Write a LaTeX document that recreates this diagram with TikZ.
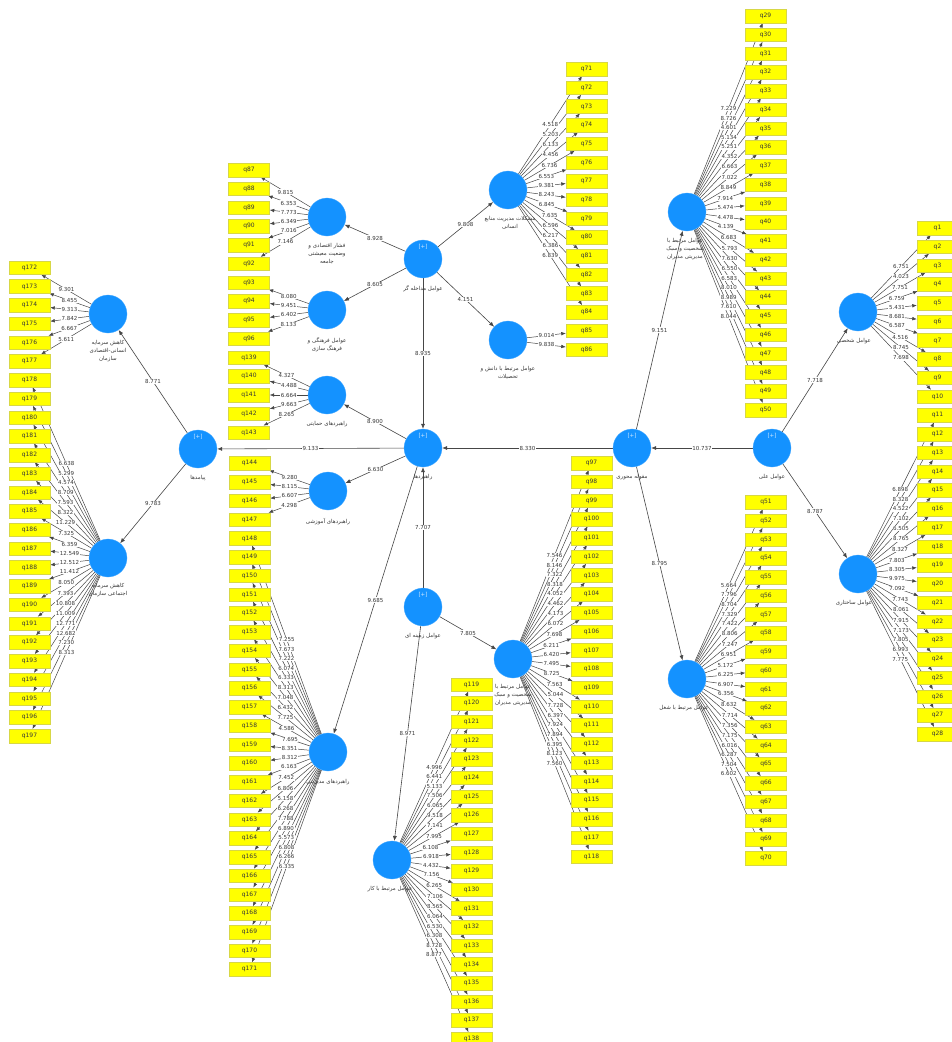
\documentclass[tikz,border=0pt]{standalone}
\usepackage{fontspec}
\setmainfont{DejaVu Sans}
\newfontfamily\farsi[Script=Arabic]{DejaVu Sans}
\TeXXeTstate=1
\usetikzlibrary{arrows.meta,calc}
\pgfdeclarelayer{bg}
\pgfdeclarelayer{lab}
\pgfsetlayers{bg,lab,main}
\definecolor{lvblue}{RGB}{20,146,255}
\definecolor{boxy}{RGB}{255,255,0}
\definecolor{boxedge}{RGB}{215,215,70}
\definecolor{lineg}{RGB}{70,70,70}
\definecolor{txtg}{RGB}{55,55,55}
\newcommand{\fa}[1]{{\farsi\beginR #1\endR}}
\tikzset{
 lvnode/.style={circle, fill=lvblue, draw=lvblue!75!white, minimum size=38pt, inner sep=0pt, line width=0.3pt},
 qbox/.style={rectangle, fill=boxy, draw=boxedge, line width=0.4pt, minimum width=41pt, minimum height=13.5pt, inner sep=0pt, font=\fontsize{6}{7}\selectfont, text=txtg},
 ldline/.style={draw=lineg, line width=0.5pt, -{Latex[length=4.5pt,width=3.6pt]}},
 strline/.style={draw=lineg, line width=0.6pt, -{Latex[length=5pt,width=4pt]}},
 ldlab/.style={fill=white, inner sep=0.6pt, font=\fontsize{5.5}{6}\selectfont, text=txtg},
 lvtext/.style={anchor=north, align=center, font=\fontsize{5.5}{8}\selectfont, text=txtg, inner sep=0pt},
 plusmark/.style={font=\fontsize{5.5}{6}\selectfont, text=white!80!lvblue, inner sep=0pt},
}
\newcommand{\indcol}[5]{%
  \foreach \i/\v [count=\k from 0] in {#5} {%
    \node[qbox] (q\i) at (#2, {#3+#4*\k}) {q\i};
    \begin{pgfonlayer}{bg}\draw[ldline] (#1) -- (q\i);\end{pgfonlayer}
    \begin{pgfonlayer}{lab}\path (#1) -- (q\i) node[midway,ldlab] (l\i) {\v};\end{pgfonlayer}
  }}
\newcommand{\stredge}[3]{%
  \begin{pgfonlayer}{bg}\draw[strline] (#1) -- (#2);\end{pgfonlayer}
  \begin{pgfonlayer}{lab}\path (#1) -- (#2) node[midway,ldlab] (s#1#2) {#3};\end{pgfonlayer}}
\begin{document}
\begin{tikzpicture}[x=1pt,y=-1pt]
\useasboundingbox (0,0) rectangle (952,1042);
\begin{pgfonlayer}{bg}\fill[white] (0,0) rectangle (952,1042);\end{pgfonlayer}
% latent variables
\node[lvnode] (shakhsi) at (858,312) {};
\node[lvnode] (sakhtari) at (858,574) {};
\node[lvnode] (elli) at (772,448) {};
\node[lvnode] (maghule) at (632,448) {};
\node[lvnode] (shakhA) at (687,212) {};
\node[lvnode] (shoghl) at (687,679) {};
\node[lvnode] (modakhele) at (423,259) {};
\node[lvnode] (moshkelat) at (508,190) {};
\node[lvnode] (danesh) at (508,340) {};
\node[lvnode] (feshar) at (327,217) {};
\node[lvnode] (farhang) at (327,310) {};
\node[lvnode] (hemayati) at (327,395) {};
\node[lvnode] (rahbord) at (423,448) {};
\node[lvnode] (amuzesh) at (328,491) {};
\node[lvnode] (modiriat) at (328,752) {};
\node[lvnode] (zamine) at (423,607) {};
\node[lvnode] (shakhB) at (513,659) {};
\node[lvnode] (kar) at (392,860) {};
\node[lvnode] (payamad) at (198,449) {};
\node[lvnode] (kahesh1) at (108,314) {};
\node[lvnode] (kahesh2) at (108,558) {};
% [+] marks
\foreach \n in {elli,maghule,modakhele,rahbord,zamine,payamad}
  \node[plusmark] (p\n) at ($(\n)+(0,-12)$) {[+]};
% latent labels
\node[lvtext] (t1) at ($(shakhsi)+(-4,26)$) {\fa{عوامل شخصی}};
\node[lvtext] (t2) at ($(sakhtari)+(-4,26)$) {\fa{عوامل ساختاری}};
\node[lvtext] (t3) at ($(elli)+(0,26)$) {\fa{عوامل علی}};
\node[lvtext] (t4) at ($(maghule)+(0,26)$) {\fa{مقوله محوری}};
\node[lvtext] (t5) at ($(shakhA)+(-2,26)$) {\fa{عوامل مرتبط با}\\\fa{شخصیت و سبک}\\\fa{مدیریتی مدیران}};
\node[lvtext] (t6) at ($(shoghl)+(-3,26)$) {\fa{عوامل مرتبط با شغل}};
\node[lvtext] (t7) at ($(modakhele)+(0,26)$) {\fa{عوامل مداخله گر}};
\node[lvtext] (t8) at ($(moshkelat)+(2,26)$) {\fa{مشکلات مدیریت منابع}\\\fa{انسانی}};
\node[lvtext] (t9) at ($(danesh)+(0,26)$) {\fa{عوامل مرتبط با دانش و}\\\fa{تحصیلات}};
\node[lvtext] (t10) at ($(feshar)+(0,26)$) {\fa{فشار اقتصادی و}\\\fa{وضعیت معیشتی}\\\fa{جامعه}};
\node[lvtext] (t11) at ($(farhang)+(0,27)$) {\fa{عوامل فرهنگی و}\\\fa{فرهنگ سازی}};
\node[lvtext] (t12) at ($(hemayati)+(0,26)$) {\fa{راهبردهای حمایتی}};
\node[lvtext] (t13) at ($(rahbord)+(0,26)$) {\fa{راهبردها}};
\node[lvtext] (t14) at ($(amuzesh)+(0,27)$) {\fa{راهبردهای آموزشی}};
\node[lvtext] (t15) at ($(modiriat)+(0,27)$) {\fa{راهبردهای مدیریتی}};
\node[lvtext] (t16) at ($(zamine)+(0,26)$) {\fa{عوامل زمینه ای}};
\node[lvtext] (t17) at ($(shakhB)+(0,25)$) {\fa{عوامل مرتبط با}\\\fa{شخصیت و سبک}\\\fa{مدیریتی مدیران}};
\node[lvtext] (t18) at ($(kar)+(-2,26)$) {\fa{عوامل مرتبط با کار}};
\node[lvtext] (t19) at ($(payamad)+(0,26)$) {\fa{پیامدها}};
\node[lvtext] (t20) at ($(kahesh1)+(0,26)$) {\fa{کاهش سرمایه}\\\fa{انسانی-اقتصادی}\\\fa{سازمان}};
\node[lvtext] (t21) at ($(kahesh2)+(0,25)$) {\fa{کاهش سرمایه}\\\fa{اجتماعی سازمان}};
% indicators
\indcol{shakhsi}{937.5}{228}{18.74}{1/6.751,2/4.023,3/7.751,4/6.759,5/5.431,6/8.681,7/6.587,8/4.516,9/8.745,10/7.698}
\indcol{sakhtari}{937.5}{415.4}{18.74}{11/6.898,12/8.328,13/4.522,14/7.102,15/6.505,16/8.765,17/8.327,18/7.803,19/8.305,20/9.975,21/7.092,22/7.743,23/8.061,24/7.915,25/7.173,26/7.805,27/6.993,28/7.775}
\indcol{shakhA}{765.5}{16}{18.76}{29/7.229,30/8.726,31/4.601,32/5.134,33/5.251,34/4.352,35/6.663,36/7.022,37/8.849,38/7.914,39/5.474,40/4.478,41/4.139,42/6.683,43/5.793,44/7.630,45/6.550,46/6.583,47/8.010,48/8.989,49/7.610,50/8.044}
\indcol{shoghl}{766}{502}{18.74}{51/5.664,52/7.796,53/8.704,54/7.329,55/7.422,56/8.806,57/7.247,58/6.951,59/5.172,60/6.225,61/6.907,62/6.356,63/8.632,64/7.714,65/7.356,66/7.175,67/6.016,68/6.287,69/7.504,70/6.602}
\indcol{moshkelat}{586.5}{69}{18.7}{71/4.518,72/5.203,73/6.133,74/4.456,75/6.736,76/6.553,77/9.381,78/8.243,79/6.845,80/7.635,81/6.596,82/6.217,83/6.386,84/6.839}
\indcol{danesh}{586.5}{330.8}{18.7}{85/9.014,86/9.838}
\indcol{feshar}{249}{170}{18.75}{87/9.815,88/6.353,89/7.773,90/6.349,91/7.016,92/7.146}
\indcol{farhang}{249}{282.5}{18.75}{93/8.080,94/9.451,95/6.402,96/8.133}
\indcol{hemayati}{249}{357.5}{18.75}{139/4.327,140/4.488,141/6.664,142/9.663,143/8.265}
\indcol{amuzesh}{249.5}{463.4}{18.74}{144/9.280,145/8.115,146/6.607,147/4.298}
\indcol{modiriat}{249.5}{538.4}{18.74}{148/7.255,149/7.673,150/7.222,151/6.074,152/6.333,153/8.313,154/7.048,155/6.432,156/7.725,157/4.586,158/7.695,159/8.351,160/8.312,161/6.163,162/7.452,163/6.806,164/5.158,165/6.268,166/7.788,167/6.890,168/5.573,169/6.808,170/6.266,171/6.335}
\indcol{shakhB}{591.5}{463}{18.74}{97/7.546,98/8.146,99/7.322,100/8.318,101/4.052,102/4.462,103/4.173,104/6.072,105/7.698,106/6.211,107/6.420,108/7.495,109/8.725,110/7.563,111/5.044,112/7.728,113/6.397,114/7.924,115/7.894,116/6.395,117/8.123,118/7.560}
\indcol{kar}{471.5}{684.5}{18.66}{119/4.996,120/6.441,121/5.133,122/7.506,123/6.065,124/9.518,125/7.141,126/7.995,127/6.108,128/6.918,129/4.432,130/7.156,131/6.265,132/7.106,133/8.565,134/6.064,135/6.530,136/6.308,137/8.728,138/8.877}
\indcol{kahesh1}{29.5}{267.7}{18.73}{172/9.301,173/8.455,174/9.313,175/7.842,176/6.667,177/5.611}
\indcol{kahesh2}{29.5}{380.1}{18.73}{178/6.638,179/5.299,180/4.574,181/8.709,182/7.593,183/8.322,184/11.229,185/7.325,186/6.359,187/12.549,188/12.512,189/11.412,190/8.050,191/7.393,192/10.808,193/11.009,194/12.771,195/12.682,196/7.230,197/8.313}
% structural paths
\stredge{elli}{maghule}{10.737}
\stredge{elli}{shakhsi}{7.718}
\stredge{elli}{sakhtari}{8.787}
\stredge{maghule}{shakhA}{9.151}
\stredge{maghule}{shoghl}{8.795}
\stredge{maghule}{rahbord}{8.330}
\stredge{modakhele}{moshkelat}{9.808}
\stredge{modakhele}{danesh}{4.151}
\stredge{modakhele}{feshar}{8.928}
\stredge{modakhele}{farhang}{8.605}
\stredge{modakhele}{rahbord}{8.935}
\stredge{zamine}{rahbord}{7.707}
\stredge{zamine}{shakhB}{7.805}
\stredge{zamine}{kar}{8.971}
\stredge{rahbord}{hemayati}{8.900}
\stredge{rahbord}{amuzesh}{6.630}
\stredge{rahbord}{modiriat}{9.685}
\stredge{rahbord}{payamad}{9.133}
\stredge{payamad}{kahesh1}{8.771}
\stredge{payamad}{kahesh2}{9.783}
\end{tikzpicture}
\end{document}
